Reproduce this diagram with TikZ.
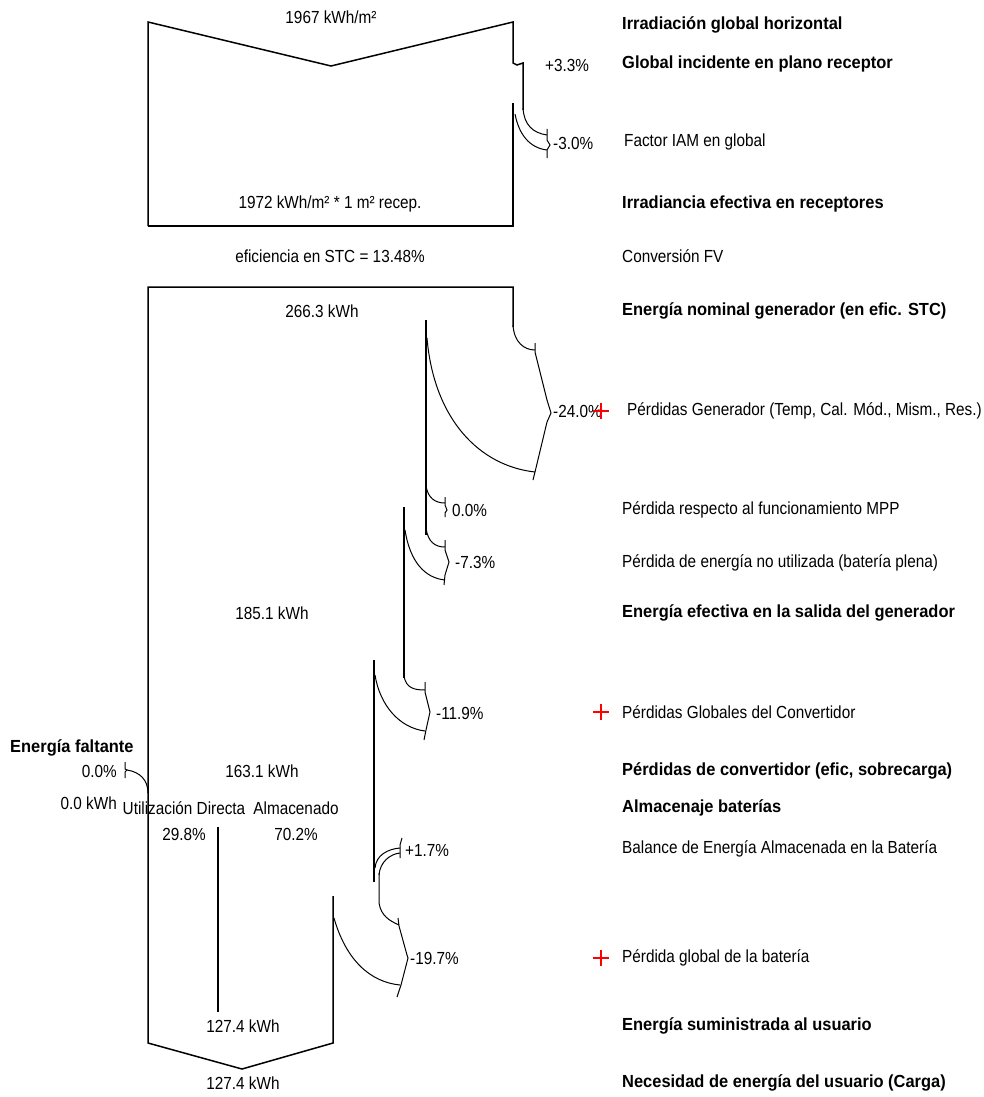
\documentclass[tikz,border=0pt]{standalone}
\usepackage{fontspec}
\setmainfont{Liberation Sans}[FakeStretch=0.875,BoldFeatures={FakeStretch=0.94}]
\begin{document}
\begin{tikzpicture}[x=1pt,y=-1pt,
  lbl/.style={inner sep=0pt,anchor=west,font=\fontsize{17.5}{20}\selectfont},
  blbl/.style={lbl,font=\fontsize{17.5}{20}\selectfont\bfseries},
  ctr/.style={inner sep=0pt,anchor=center,font=\fontsize{17.5}{20}\selectfont},
  rgt/.style={inner sep=0pt,anchor=east,font=\fontsize{17.5}{20}\selectfont},
  flow/.style={line width=1.5pt,line join=miter},
  thin/.style={line width=1pt},
  plus/.style={red,line width=2.8pt}]
\useasboundingbox (0,0) rectangle (983,1097);
% ---------- top irradiation box ----------
\draw[flow] (148,226) -- (148,22) -- (331,66) -- (513,22) -- (513,63) -- (517,65) -- (523,63) -- (523,110);
\draw[flow] (513,103) -- (513,226) -- (148,226);
\draw[thin] (523,108) .. controls (524,125) and (533,133) .. (547,135);
\draw[thin] (515,114) .. controls (519,135) and (530,148) .. (547,150);
\draw[thin] (547,129) -- (547,140) -- (550,145) -- (547,150) -- (547,158);
% ---------- main energy flow ----------
\draw[flow] (333,896) -- (333,1043) -- (242,1069) -- (148,1043) -- (148,287) -- (513,287) -- (513,327);
% -24.0%
\draw[thin] (513,325) .. controls (514,342) and (524,350) .. (535,350);
\draw[thin] (535,343) -- (535,352) -- (547,400) -- (551,413) -- (547,422) -- (535,472) -- (533,480);
\draw[flow] (426,320) -- (426,535);
\draw[thin] (427,338) .. controls (434,420) and (480,466) .. (535,472);
% 0.0%
\draw[thin] (426,486) .. controls (428,498) and (435,503) .. (445,503);
\draw[thin] (445,497) -- (445,505) -- (447,510) -- (445,513) -- (445,517);
% -7.3%
\draw[thin] (426,528) .. controls (428,542) and (435,547) .. (445,547);
\draw[thin] (445,540) -- (445,550) -- (449,562) -- (445,575) -- (444,585);
\draw[flow] (404,507) -- (404,678);
\draw[thin] (405,530) .. controls (410,562) and (425,578) .. (445,580);
% -11.9%
\draw[thin] (404,676) .. controls (406,688) and (414,690) .. (425,690);
\draw[thin] (425,682) -- (425,692) -- (430,712) -- (426,730) -- (424,740);
\draw[flow] (374,660) -- (374,882);
\draw[thin] (375,675) .. controls (380,706) and (400,728) .. (425,731);
% +1.7%
\draw[thin] (375,868) .. controls (376,855) and (388,849) .. (400,848);
\draw[thin] (379,875) .. controls (380,862) and (390,854) .. (400,853);
\draw[thin] (402,838) -- (400,845) -- (400,858);
\draw[thin] (379,873) -- (379,903) .. controls (381,916) and (390,921) .. (399,925);
% -19.7%
\draw[thin] (398,918) -- (399,926) -- (407,955) -- (408,958) -- (401,985) -- (397,997);
\draw[thin] (334,918) .. controls (346,960) and (370,982) .. (400,985);
% inner split line
\draw[flow] (218,827) -- (218,1012);
% energia faltante
\draw[thin] (125,762) -- (125,769) -- (127,770) -- (125,772) -- (125,778);
\draw[thin] (127,770) .. controls (140,772) and (148,780) .. (148,793);
% ---------- left / centre texts ----------
\node[ctr] (v1) at (331,17) {1967 kWh/m²};
\node[lbl] (p1) at (545,65) {+3.3\%};
\node[lbl] (p2) at (553,143) {-3.0\%};
\node[ctr] (v2) at (330,204) {1972 kWh/m² * 1 m² recep.};
\node[ctr] (v3) at (330,256) {eficiencia en STC = 13.48\%};
\node[ctr] (v4) at (322,311) {266.3 kWh};
\node[lbl] (p3) at (553,411) {-24.0\%};
\node[lbl] (p4) at (452,510) {0.0\%};
\node[lbl] (p5) at (455,562) {-7.3\%};
\node[ctr] (v5) at (272,613) {185.1 kWh};
\node[lbl] (p6) at (436,713) {-11.9\%};
\node[blbl] (ef) at (10,748) {Energía faltante};
\node[rgt] (ef1) at (117,771) {0.0\%};
\node[rgt] (ef2) at (117,803) {0.0 kWh};
\node[ctr] (v6) at (262,771) {163.1 kWh};
\node[ctr] (ud) at (184,808) {Utilización Directa};
\node[ctr] (al) at (296,808) {Almacenado};
\node[ctr] (ud1) at (184,834) {29.8\%};
\node[ctr] (al1) at (296,834) {70.2\%};
\node[lbl] (p7) at (405,850) {+1.7\%};
\node[lbl] (p8) at (410,958) {-19.7\%};
\node[ctr] (v7) at (243,1026) {127.4 kWh};
\node[ctr] (v8) at (243,1083) {127.4 kWh};
% ---------- red plus marks ----------
\draw[plus] (593,411) -- (609,411) (601,403) -- (601,419);
\draw[plus] (593,712) -- (609,712) (601,704) -- (601,720);
\draw[plus] (593,958) -- (609,958) (601,950) -- (601,966);
% ---------- right labels ----------
\node[blbl] (r1) at (622,25) {Irradiación global horizontal};
\node[blbl] (r2) at (622,64) {Global incidente en plano receptor};
\node[lbl] (r3) at (624,142) {Factor IAM en global};
\node[blbl] (r4) at (622,204) {Irradiancia efectiva en receptores};
\node[lbl] (r5) at (622,256) {Conversión FV};
\node[blbl] (r6) at (622,311) {Energía nominal generador (en efic. STC)};
\node[lbl] (r7) at (627,411) {Pérdidas Generador (Temp, Cal. Mód., Mism., Res.)};
\node[lbl] (r8) at (622,510) {Pérdida respecto al funcionamiento MPP};
\node[lbl] (r9) at (622,563) {Pérdida de energía no utilizada (batería plena)};
\node[blbl] (r10) at (622,613) {Energía efectiva en la salida del generador};
\node[lbl] (r11) at (622,712) {Pérdidas Globales del Convertidor};
\node[blbl] (r12) at (622,771) {Pérdidas de convertidor (efic, sobrecarga)};
\node[blbl] (r13) at (622,808) {Almacenaje baterías};
\node[lbl] (r14) at (622,849) {Balance de Energía Almacenada en la Batería};
\node[lbl] (r15) at (622,958) {Pérdida global de la batería};
\node[blbl] (r16) at (622,1026) {Energía suministrada al usuario};
\node[blbl] (r17) at (622,1083) {Necesidad de energía del usuario (Carga)};
\end{tikzpicture}
\end{document}
